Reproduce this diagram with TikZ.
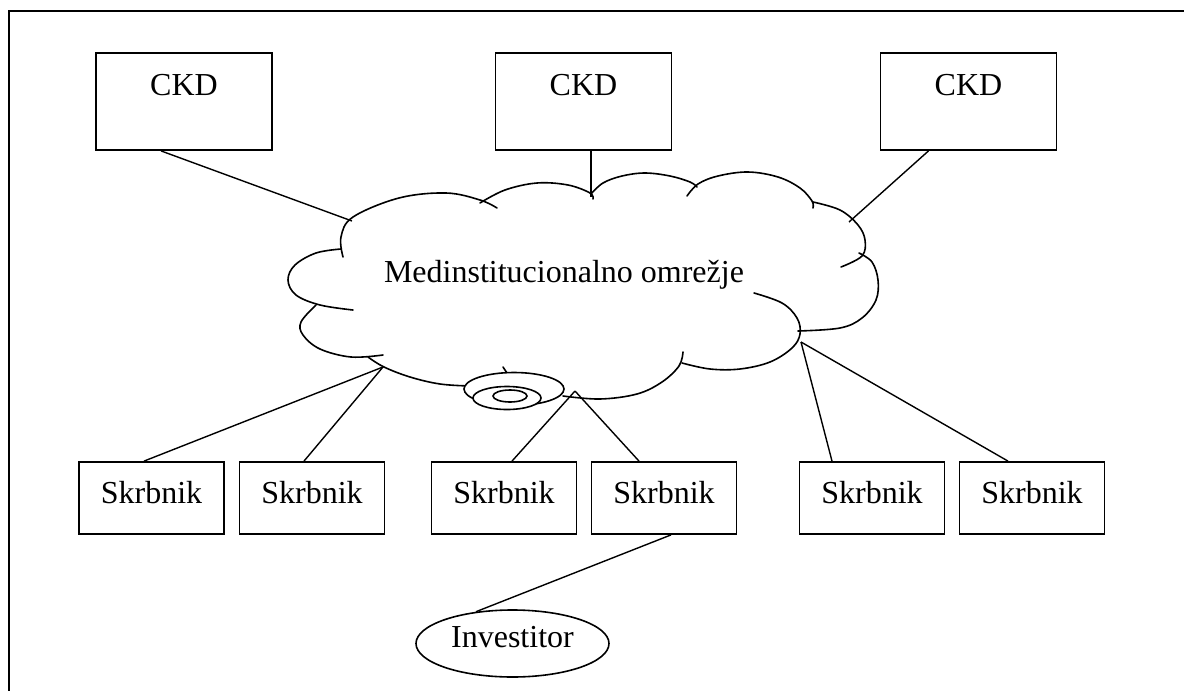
\documentclass[tikz,border=0pt]{standalone}
\usepackage{fontspec}
\setmainfont{Liberation Serif}
\usetikzlibrary{shapes.geometric}

\begin{document}
\begin{tikzpicture}[x=1pt,y=-1pt,
  every node/.style={font=\fontsize{32}{38}\selectfont},
  ckdbox/.style={draw, line width=1.8pt, minimum width=176pt, minimum height=97pt,
                 inner sep=0pt, text height=22pt, text depth=35pt},
  skbox/.style={draw, line width=1.8pt, minimum width=145pt, minimum height=72pt,
                inner sep=0pt, text height=24pt, text depth=14pt},
  investbox/.style={draw, ellipse, line width=1.6pt, minimum width=193pt, minimum height=67pt,
                inner sep=0pt},
  link/.style={line width=1.4pt},
  cloudline/.style={line width=1.6pt, line cap=round},
  frame/.style={line width=2pt},
  bubble/.style={draw, ellipse, fill=white, line width=1.6pt, inner sep=0pt}
]
\useasboundingbox (0,0) rectangle (1184,691);

% outer frame (only top and left edges fall on the page)
\draw[frame] (8.5,691) -- (8.5,11) -- (1184,11);

% central cloud, drawn lobe by lobe
\draw[cloudline] plot[smooth, tension=0.6] coordinates {(343,257) (341,237) (353,217) (399,198) (446,193) (480,200) (497,208)};
\draw[cloudline] plot[smooth, tension=0.6] coordinates {(480,203) (505,190) (537,183) (568,185) (590,193) (593,199)};
\draw[cloudline] plot[smooth, tension=0.6] coordinates {(591,194) (603,183) (622,176) (645,173) (670,176) (690,182) (697,187)};
\draw[cloudline] plot[smooth, tension=0.6] coordinates {(687,196) (698,184) (718,176) (748,172) (778,177) (800,188) (812,201) (813,208)};
\draw[cloudline] plot[smooth, tension=0.6] coordinates {(813,202) (840,210) (858,225) (865,240) (862,256) (841,267)};
\draw[cloudline] plot[smooth, tension=0.6] coordinates {(859,253) (872,262) (878,280) (876,300) (862,318) (840,328) (798,331)};
\draw[cloudline] plot[smooth, tension=0.6] coordinates {(754,293) (782,303) (797,318) (800,334) (792,348) (770,362) (740,369) (710,369) (682,363)};
\draw[cloudline] plot[smooth, tension=0.6] coordinates {(683,352) (679,366) (662,382) (637,394) (600,399) (563,396)};
\draw[cloudline] plot[smooth, tension=0.6] coordinates {(470,386) (440,384) (410,377) (384,367) (368,357)};
\draw[cloudline] plot[smooth, tension=0.6] coordinates {(383,355) (351,357) (320,349) (303,335) (301,322) (316,305)};
\draw[cloudline] plot[smooth, tension=0.6] coordinates {(341,249) (316,253) (295,265) (288,280) (296,295) (320,305) (353,310)};
\draw[cloudline] (503,367) -- (507,373);

% small thought bubbles under the cloud
\node[bubble, minimum width=100pt, minimum height=33pt] (bub1) at (514,389) {};
\node[bubble, minimum width=68pt, minimum height=23pt] (bub2) at (507,398) {};
\node[bubble, minimum width=34pt, minimum height=12pt] (bub3) at (510,396) {};

\node[anchor=base] (net) at (564,282) {Medinstitucionalno omrežje};

% attachment points on the cloud outline
\coordinate (cA) at (352,221);
\coordinate (cB) at (591,197);
\coordinate (cC) at (849,222);
\coordinate (cL) at (383,367);
\coordinate (cM) at (575,391);
\coordinate (cR) at (801,342);

% CKD boxes
\node[ckdbox] (k1) at (184,101.5) {CKD};
\node[ckdbox] (k2) at (583.5,101.5) {CKD};
\node[ckdbox] (k3) at (968.5,101.5) {CKD};

% Skrbnik boxes
\node[skbox] (s1) at (151.5,498) {Skrbnik};
\node[skbox] (s2) at (312,498) {Skrbnik};
\node[skbox] (s3) at (504,498) {Skrbnik};
\node[skbox] (s4) at (664,498) {Skrbnik};
\node[skbox] (s5) at (872,498) {Skrbnik};
\node[skbox] (s6) at (1032,498) {Skrbnik};

% investor
\node[investbox] (inv) at (512.5,643.5) {};
\node[anchor=base] (invtext) at (512.5,647) {Investitor};

% connectors
\draw[link] ([xshift=-23pt]k1.south) -- (cA);
\draw[link] ([xshift=7.5pt]k2.south) -- (cB);
\draw[link] ([xshift=-40pt]k3.south) -- (cC);
\draw[link] ([xshift=-7.5pt]s1.north) -- (cL);
\draw[link] ([xshift=-8pt]s2.north) -- (cL);
\draw[link] ([xshift=8pt]s3.north) -- (cM);
\draw[link] ([xshift=-25pt]s4.north) -- (cM);
\draw[link] ([xshift=-40pt]s5.north) -- (cR);
\draw[link] ([xshift=-24pt]s6.north) -- (cR);
\draw[link] ([xshift=7pt]s4.south) -- (inv.139);
\end{tikzpicture}
\end{document}
